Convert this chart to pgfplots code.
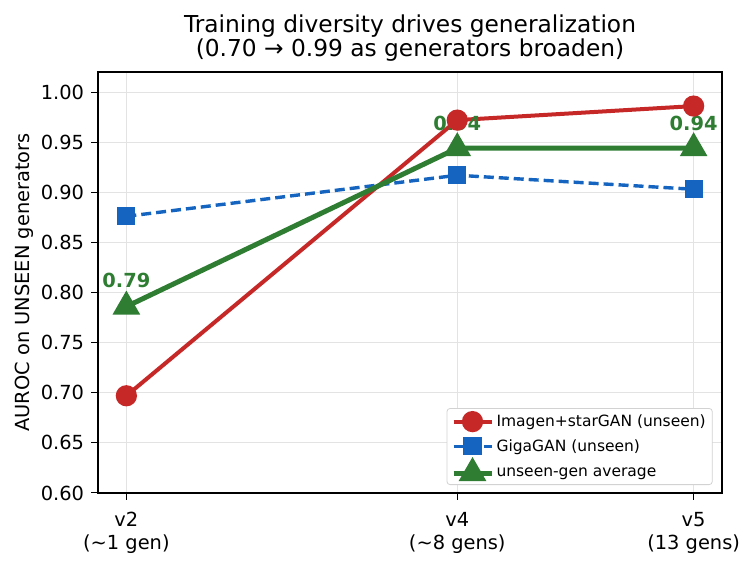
\documentclass[border=0pt]{standalone}
\usepackage{fontspec}
\setmainfont{DejaVu Sans}
\usepackage{pgfplots}
\pgfplotsset{compat=1.18}
\definecolor{cred}{HTML}{C62828}
\definecolor{cblue}{HTML}{1565C0}
\definecolor{cgreen}{HTML}{2E7D32}
\begin{document}
\begin{tikzpicture}
\useasboundingbox (0,0) rectangle (754bp,566bp);
\begin{axis}[
  at={(98bp,73bp)}, anchor=south west,
  scale only axis, width=624bp, height=421bp,
  xmin=0.4, xmax=13.6, ymin=0.6, ymax=1.02,
  xtick={1,8,13},
  xticklabels={v2\\(\textasciitilde1 gen), v4\\(\textasciitilde8 gens), v5\\(13 gens)},
  xticklabel style={align=center, font=\fontsize{19.4bp}{23bp}\selectfont, inner sep=2bp, yshift=-10bp},
  ytick={0.6,0.65,...,1.001},
  yticklabel style={/pgf/number format/fixed,/pgf/number format/fixed zerofill,/pgf/number format/precision=2, font=\fontsize{19.4bp}{23bp}\selectfont, inner sep=2bp, xshift=-5bp},
  /pgf/number format/assume math mode=true,
  grid=major, grid style={gray!22, line width=1bp},
  tick style={black, line width=1bp}, major tick length=6.8bp,
  tick align=outside, xtick pos=bottom, ytick pos=left,
  axis line style={line width=1.4bp},
  ylabel={AUROC on UNSEEN generators},
  ylabel style={font=\fontsize{19.4bp}{23bp}\selectfont, yshift=2bp},
  title={Training diversity drives generalization\\(0.70 \textrightarrow{} 0.99 as generators broaden)},
  title style={align=center, font=\fontsize{23.3bp}{24bp}\selectfont, yshift=1bp},
  legend style={font=\fontsize{15.5bp}{18bp}\selectfont, draw=gray!35, line width=0.8bp, rounded corners=3bp, at={(0.985,0.019)}, anchor=south east, row sep=6.5bp, inner sep=4bp, nodes={inner sep=2.5bp}},
  legend cell align=left,
  legend image code/.code={\draw[mark repeat=2,mark phase=2,#1] plot coordinates {(0bp,0bp)(19bp,0bp)(38bp,0bp)};},
]
\addplot[cred, line width=4bp, mark=*, mark size=8.6bp, mark options={solid}] coordinates {(1,0.697) (8,0.972) (13,0.986)};
\addlegendentry{Imagen+starGAN (unseen)}
\addplot[cblue, line width=3.4bp, dash pattern=on 10bp off 5bp, mark=square*, mark size=7.4bp, mark options={solid}] coordinates {(1,0.876) (8,0.917) (13,0.903)};
\addlegendentry{GigaGAN (unseen)}
\addplot[cgreen, line width=5bp, mark=triangle*, mark size=11bp, mark options={solid}] coordinates {(1,0.786) (8,0.944) (13,0.944)};
\addlegendentry{unseen-gen average}
\node[cgreen, font=\bfseries\fontsize{19.4bp}{23bp}\selectfont] at (axis cs:1,0.812) {0.79};
\node[cgreen, font=\bfseries\fontsize{19.4bp}{23bp}\selectfont] at (axis cs:8,0.969) {0.94};
\node[cgreen, font=\bfseries\fontsize{19.4bp}{23bp}\selectfont] at (axis cs:13,0.969) {0.94};
\end{axis}
\end{tikzpicture}
\end{document}
